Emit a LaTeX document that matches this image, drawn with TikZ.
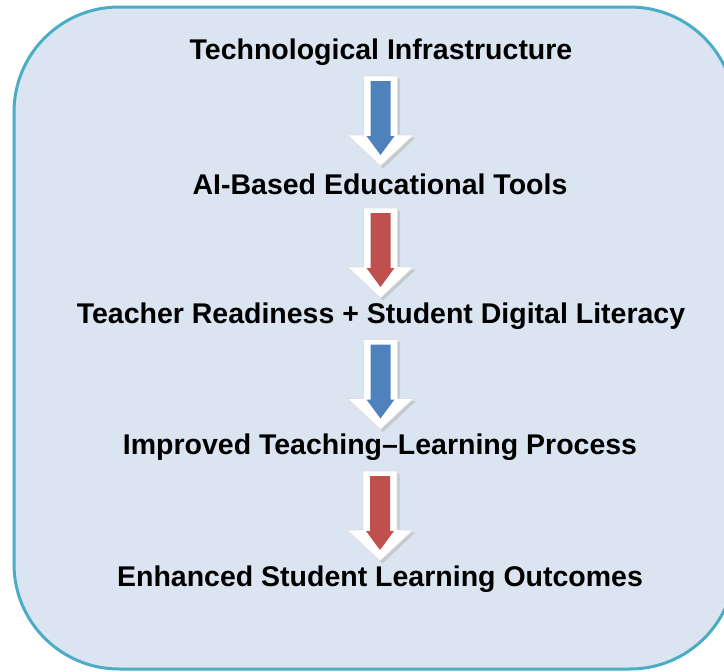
\documentclass[tikz,border=0pt]{standalone}
\usepackage{fontspec}
\setmainfont{Liberation Sans}
\usetikzlibrary{calc}

\definecolor{boxfill}{HTML}{DBE5F1}
\definecolor{boxline}{HTML}{4BACC6}
\definecolor{arrblue}{HTML}{4F81BD}
\definecolor{arrred}{HTML}{C0504D}

% block arrow halfway between two nodes
\newcommand{\flowarrow}[3]{
\begin{scope}[shift={($(#1)!0.5!(#2)$)}]
\fill[gray!55,opacity=.6,shift={(2.5,2.5)}] (-17,-42) -- (17,-42) -- (17,17) -- (33,17) -- (0,48) -- (-33,17) -- (-17,17) -- cycle;
\fill[white,draw=gray!25,line width=.6pt] (-17,-42) -- (17,-42) -- (17,17) -- (33,17) -- (0,48) -- (-33,17) -- (-17,17) -- cycle;
\fill[#3] (-10,-37) -- (10,-37) -- (10,18) -- (14,18) -- (0,37) -- (-14,18) -- (-10,18) -- cycle;
\end{scope}
}

\begin{document}
\begin{tikzpicture}[x=1pt,y=-1pt,
  step label/.style={font=\bfseries\fontsize{28.5}{33}\selectfont,inner sep=0pt}]
\useasboundingbox (0,0) rectangle (724,672);
\clip (0,0) rectangle (724,672);
\draw[fill=boxfill,draw=boxline,line width=3pt,rounded corners=105pt] (14,7) rectangle (735,669);

\node[step label] (infra) at (381,52) {Technological Infrastructure};
\node[step label] (tools) at (380,184) {AI-Based Educational Tools};
\node[step label] (ready) at (381,316) {Teacher Readiness + Student Digital Literacy};
\node[step label] (process) at (380,447) {Improved Teaching–Learning Process};
\node[step label] (outcome) at (380,579) {Enhanced Student Learning Outcomes};

\flowarrow{infra}{tools}{arrblue}
\flowarrow{tools}{ready}{arrred}
\flowarrow{ready}{process}{arrblue}
\flowarrow{process}{outcome}{arrred}
\end{tikzpicture}
\end{document}
